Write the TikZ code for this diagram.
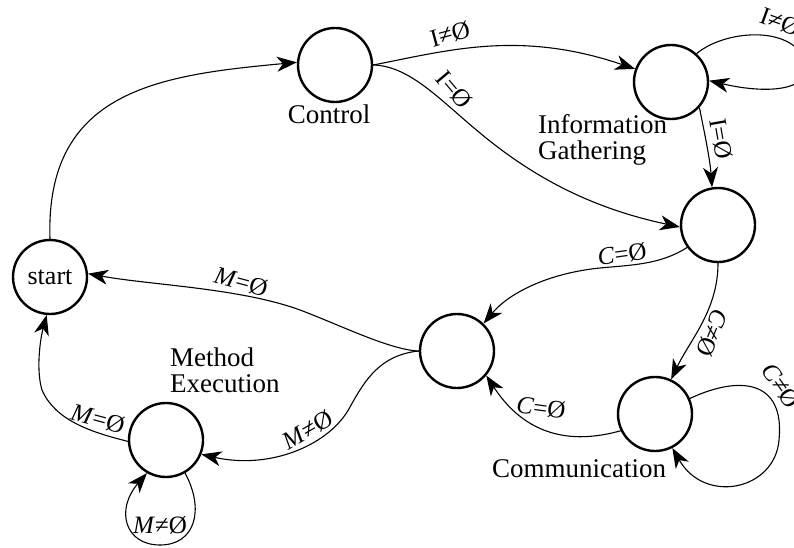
\documentclass[tikz,border=0pt]{standalone}
\usepackage{fontspec}
\setmainfont{Liberation Serif}
\usetikzlibrary{arrows.meta}
\begin{document}
\begin{tikzpicture}[x=1pt,y=-1pt,
  state/.style={circle,draw,line width=2.4pt,minimum size=74pt,inner sep=0pt,
    font=\fontsize{26}{28}\selectfont},
  trans/.style={line width=1.1pt,-{Stealth[length=20pt,width=15pt,inset=6pt]}},
  lbl/.style={font=\fontsize{25}{27}\selectfont,inner sep=1pt},
  caption/.style={font=\fontsize{27}{26}\selectfont,align=left,inner sep=0pt}]
\clip (0,0) rectangle (794,548);

% states
\node[state] (start) at (50,277) {start};
\node[state] (ctrl)  at (335,65)  {};
\node[state] (info)  at (671,82)  {};
\node[state] (hub)   at (718,225) {};
\node[state] (mid)   at (457,351) {};
\node[state] (meth)  at (166,440) {};
\node[state] (comm)  at (655,414) {};

% state names
\node[caption] (ctrlname) at (329,114) {Control};
\node[caption,anchor=west] (infoname) at (538,140) {Information\\Gathering};
\node[caption,anchor=west] (methname) at (170,370) {Method\\Execution};
\node[caption] (commname) at (579,469) {Communication};

% transitions
\draw[trans] (start.90) .. controls (45,90) and (160,75) .. (ctrl.176);
\draw[trans] (ctrl.0) .. controls (450,50) and (520,30) .. (info.160);
\draw[trans] (ctrl.0) .. controls (410,66) and (440,100) .. (480,133)
                      .. controls (540,183) and (600,210) .. (hub.183);
\draw[trans] (info.48) .. controls (725,30) and (790,25) .. (805,60)
                       .. controls (815,90) and (770,95) .. (info.2);
\draw[trans] (info.-42) .. controls (705,135) and (710,160) .. (hub.99);
\draw[trans] (hub.216) .. controls (660,265) and (630,265) .. (600,268)
                       .. controls (550,273) and (510,292) .. (mid.46);
\draw[trans] (hub.-90) .. controls (718,310) and (690,340) .. (comm.65);
\draw[trans] (mid.180) .. controls (390,350) and (340,325) .. (300,310)
                       .. controls (240,288) and (150,285) .. (start.5);
\draw[trans] (mid.180) .. controls (380,355) and (365,380) .. (350,407)
                       .. controls (330,445) and (270,470) .. (meth.-22);
\draw[trans] (meth.182) .. controls (90,432) and (55,420) .. (42,390)
                        .. controls (36,370) and (40,340) .. (start.-95);
\draw[trans] (meth.-60) .. controls (205,510) and (195,545) .. (160,545)
                        .. controls (125,545) and (115,510) .. (meth.-120);
\draw[trans] (comm.206) .. controls (570,445) and (525,435) .. (mid.-40);
\draw[trans] (comm.24) .. controls (740,375) and (785,380) .. (779,440)
                       .. controls (775,490) and (705,505) .. (comm.-63);

% transition labels
\node[lbl,rotate=15]   (l1)  at (450,34)  {I≠Ø};
\node[lbl,rotate=-50]  (l2)  at (454,90)  {I=Ø};
\node[lbl,rotate=-20]  (l3)  at (780,22)  {I≠Ø};
\node[lbl,rotate=-80]  (l4)  at (721,139) {I=Ø};
\node[lbl,rotate=8]    (l5)  at (622,254) {\textit{C}=Ø};
\node[lbl,rotate=-112] (l6)  at (712,333) {\textit{C}≠Ø};
\node[lbl,rotate=-15]  (l7)  at (241,282) {\textit{M}=Ø};
\node[lbl,rotate=30]   (l8)  at (308,430) {\textit{M}≠Ø};
\node[lbl,rotate=-15]  (l9)  at (98,419)  {\textit{M}=Ø};
\node[lbl]             (l10) at (160,525) {\textit{M}≠Ø};
\node[lbl,rotate=-8]   (l11) at (541,408) {\textit{C}=Ø};
\node[lbl,rotate=-55]  (l12) at (781,386) {\textit{C}≠Ø};
\end{tikzpicture}
\end{document}
